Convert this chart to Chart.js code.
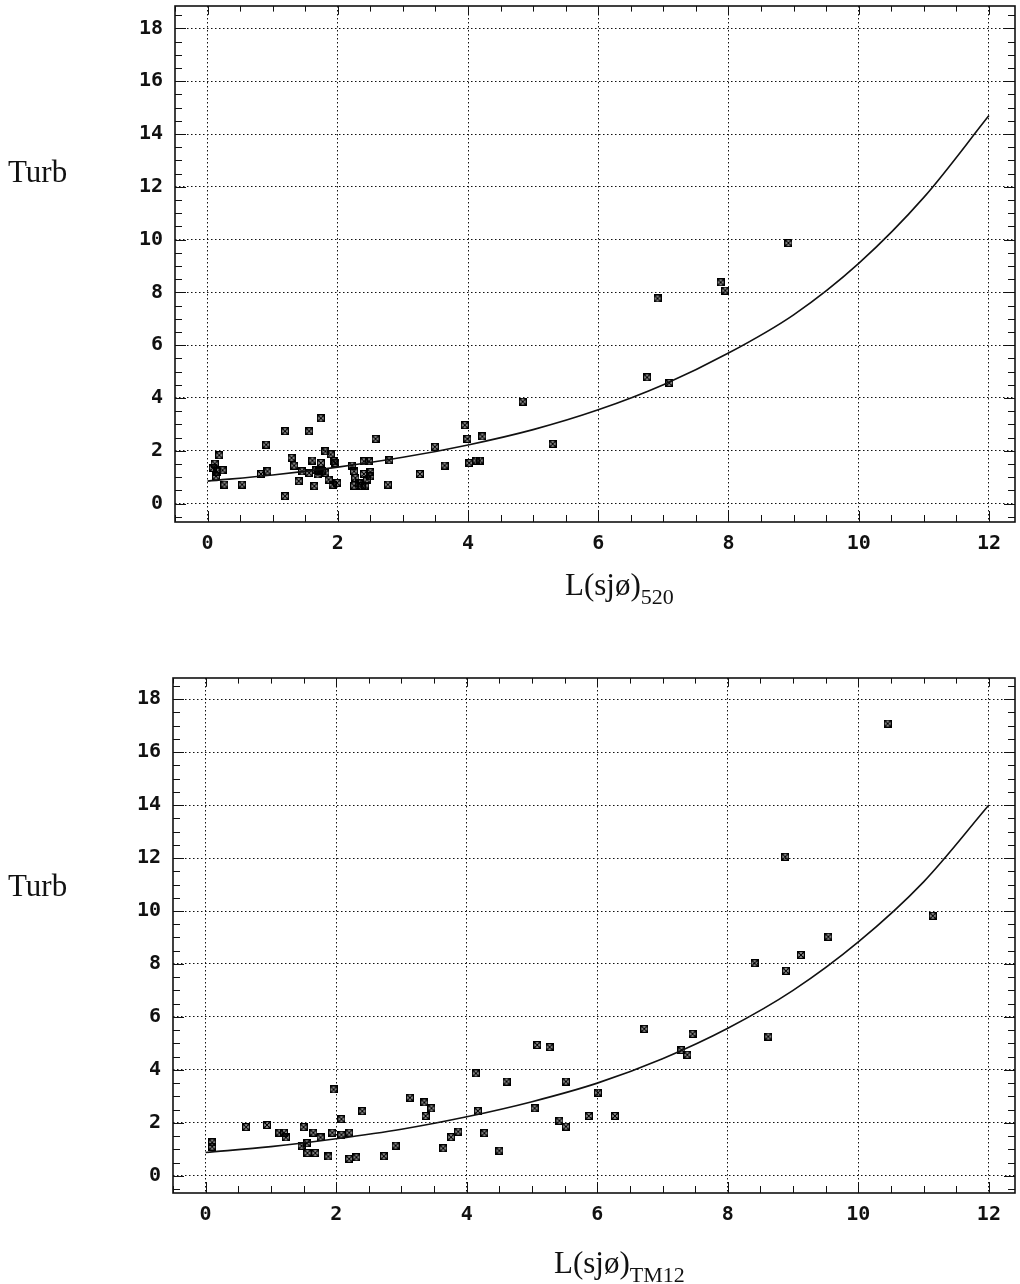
<!DOCTYPE html>
<html>
<head>
<meta charset="utf-8">
<script src="https://cdn.jsdelivr.net/npm/chart.js@4/dist/chart.umd.min.js"></script>
<style>
  html, body { margin: 0; padding: 0; background: #fff; }
  #page { position: relative; width: 1020px; height: 1284px; overflow: hidden; }
  canvas { position: absolute; left: 0; }
  .lbl { position: absolute; font-family: 'Liberation Serif', 'Times New Roman', serif; font-size: 31px; line-height: 31px; color: #111; white-space: nowrap; }
  .lbl sub { font-size: 22px; vertical-align: -9px; line-height: 0; }
</style>
</head>
<body>
<div id="page">
  <canvas id="chart-top" width="1020" height="620" style="top:0px"></canvas>
  <canvas id="chart-bottom" width="1020" height="624" style="top:660px"></canvas>
  <div class="lbl" style="left:8px; top:156px;">Turb</div>
  <div class="lbl" style="left:565px; top:569px;">L(sjø)<sub>520</sub></div>
  <div class="lbl" style="left:8px; top:870px;">Turb</div>
  <div class="lbl" style="left:554px; top:1247px;">L(sjø)<sub>TM12</sub></div>
</div>
<script>
// upper panel: scatter
const topPointsX = [0.08, 0.11, 0.13, 0.15, 0.18, 0.23, 0.26, 0.53, 0.82, 0.90, 0.92, 1.19, 1.19, 1.29, 1.33, 1.40, 1.45, 1.56, 1.56, 1.61,
    1.64, 1.66, 1.69, 1.71, 1.74, 1.74, 1.76, 1.81, 1.81, 1.86, 1.89, 1.92, 1.94, 1.96, 1.99, 2.22, 2.25, 2.27, 2.32, 2.25,
    2.37, 2.42, 2.45, 2.40, 2.50, 2.50, 2.40, 2.48, 2.58, 2.79, 2.77, 3.26, 3.49, 3.64, 3.95, 3.99, 4.02, 4.13, 4.18, 4.22,
    4.84, 5.30, 6.75, 6.91, 7.09, 7.88, 7.95, 8.92];
const topPointsY = [1.35, 1.51, 1.03, 1.20, 1.83, 1.26, 0.72, 0.72, 1.12, 2.23, 1.22, 2.74, 0.28, 1.73, 1.44, 0.85, 1.22, 1.16, 2.74, 1.63,
    0.66, 1.26, 1.10, 1.22, 1.54, 3.23, 1.22, 1.16, 1.98, 0.91, 1.86, 0.72, 1.60, 1.54, 0.78, 1.44, 1.22, 0.97, 0.76, 0.68,
    0.66, 0.68, 0.91, 1.12, 1.19, 1.03, 1.60, 1.60, 2.45, 1.64, 0.72, 1.12, 2.15, 1.44, 2.97, 2.45, 1.54, 1.63, 1.63, 2.54,
    3.86, 2.26, 4.78, 7.77, 4.57, 8.38, 8.07, 9.87];
const topCurveX = [0, 1, 2, 3, 4, 5, 6, 7, 8, 9, 10, 11, 12];
const topCurveY = [0.85, 1.08, 1.38, 1.75, 2.22, 2.8, 3.55, 4.5, 5.7, 7.15, 9.1, 11.6, 14.7];

// lower panel
const botPointsX = [0.10, 0.10, 0.62, 0.94, 1.13, 1.20, 1.23, 1.47, 1.50, 1.55, 1.56, 1.65, 1.68, 1.76, 1.88, 1.94, 1.96, 2.08, 2.08, 2.20,
    2.20, 2.31, 2.40, 2.73, 2.91, 3.13, 3.35, 3.37, 3.46, 3.64, 3.76, 3.87, 4.14, 4.17, 4.27, 4.50, 4.61, 5.04, 5.08, 5.27,
    5.42, 5.52, 5.52, 5.87, 6.01, 6.27, 6.72, 7.29, 7.38, 7.46, 8.41, 8.62, 8.88, 8.89, 9.12, 9.54, 10.45, 11.14];
const botPointsY = [1.26, 1.10, 1.84, 1.92, 1.63, 1.63, 1.45, 1.13, 1.84, 1.23, 0.86, 1.63, 0.86, 1.45, 0.73, 1.63, 3.26, 2.14, 1.55, 1.63,
    0.64, 0.70, 2.44, 0.74, 1.14, 2.95, 2.77, 2.26, 2.55, 1.04, 1.46, 1.67, 3.87, 2.45, 1.61, 0.95, 3.56, 2.55, 4.94, 4.86,
    2.08, 3.56, 1.86, 2.26, 3.14, 2.26, 5.55, 4.75, 4.57, 5.36, 8.03, 5.26, 12.05, 7.74, 8.34, 9.03, 17.08, 9.82];
const botCurveX = [0, 1, 2, 3, 4, 5, 6, 7, 8, 9, 10, 11, 12];
const botCurveY = [0.88, 1.1, 1.4, 1.76, 2.23, 2.8, 3.5, 4.42, 5.57, 7.0, 8.83, 11.1, 14.0];

// labelled ticks (same on both panels)
const xTickValues = [0, 2, 4, 6, 8, 10, 12];
const yTickValues = [0, 2, 4, 6, 8, 10, 12, 14, 16, 18];

const ink = '#111';

// small boxed-x marker used for every data point
const makeMarker = () => {
    const c = document.createElement('canvas');
    c.width = 8; c.height = 8;
    const g = c.getContext('2d');
    g.strokeStyle = '#000';
    g.lineWidth = 1.5;
    g.strokeRect(0.75, 0.75, 6.5, 6.5);
    g.beginPath();
    g.moveTo(1, 1); g.lineTo(7, 7);
    g.moveTo(7, 1); g.lineTo(1, 7);
    g.stroke();
    return c;
};
const marker = makeMarker();

// frame with inward ticks on all four sides (every 0.5, longer at even values)
const frameTicks = {
    id: 'frameTicks',
    afterDatasetsDraw(chart) {
        const { ctx, chartArea: a, scales: { x, y } } = chart;
        ctx.save();
        ctx.strokeStyle = ink;
        ctx.lineWidth = 1;
        ctx.beginPath();
        for (let v = Math.ceil(x.min * 2) / 2; v <= x.max + 1e-9; v += 0.5) {
            const px = Math.round(x.getPixelForValue(v)) + 0.5;
            const len = (Math.abs(v % 2) < 1e-9) ? 11 : 7;
            ctx.moveTo(px, a.bottom); ctx.lineTo(px, a.bottom - len);
            ctx.moveTo(px, a.top); ctx.lineTo(px, a.top + len * 0.8);
        }
        for (let v = Math.ceil(y.min * 2) / 2; v <= y.max + 1e-9; v += 0.5) {
            const py = Math.round(y.getPixelForValue(v)) + 0.5;
            const len = (Math.abs(v % 2) < 1e-9) ? 11 : 7;
            ctx.moveTo(a.left, py); ctx.lineTo(a.left + len, py);
            ctx.moveTo(a.right, py); ctx.lineTo(a.right - len, py);
        }
        ctx.stroke();
        ctx.lineWidth = 1.6;
        ctx.strokeRect(a.left, a.top, a.right - a.left, a.bottom - a.top);
        ctx.restore();
    }
};

const buildChart = (canvasId, opts) => {
    const points = opts.px.map((v, i) => ({ x: v, y: opts.py[i] }));
    const curve = opts.cx.map((v, i) => ({ x: v, y: opts.cy[i] }));
    const tickFont = { family: "'DejaVu Sans Mono', monospace", size: 20, weight: 'bold' };

    return new Chart(document.getElementById(canvasId), {
        type: 'scatter',
        data: {
            datasets: [
                {
                    data: curve,
                    showLine: true,
                    borderColor: ink,
                    borderWidth: 1.6,
                    pointRadius: 0,
                    cubicInterpolationMode: 'monotone',
                    fill: false
                },
                {
                    data: points,
                    pointStyle: marker,
                    pointRadius: 4,
                    borderColor: ink,
                    backgroundColor: ink
                }
            ]
        },
        options: {
            responsive: false,
            animation: false,
            events: [],
            layout: { padding: { left: 0, top: opts.padTop, right: 1, bottom: 0 } },
            plugins: { legend: { display: false }, tooltip: { enabled: false } },
            scales: {
                x: {
                    type: 'linear',
                    min: -0.5,
                    max: 12.4,
                    afterBuildTicks: axis => { axis.ticks = xTickValues.map(v => ({ value: v })); },
                    afterFit: s => { s.height = opts.xAxisHeight; s.paddingLeft = 0; s.paddingRight = 0; },
                    ticks: {
                        padding: 10,
                        color: ink,
                        font: tickFont,
                        autoSkip: false,
                        maxRotation: 0
                    },
                    grid: { color: ink, lineWidth: 1, drawTicks: false },
                    border: { display: false, dash: [1.5, 2.5] }
                },
                y: {
                    type: 'linear',
                    min: opts.yMin,
                    max: opts.yMax,
                    afterBuildTicks: axis => { axis.ticks = yTickValues.map(v => ({ value: v })); },
                    afterFit: s => { s.width = opts.yAxisWidth; s.paddingTop = 0; s.paddingBottom = 0; },
                    ticks: {
                        padding: 12,
                        color: ink,
                        font: tickFont,
                        autoSkip: false
                    },
                    grid: { color: ink, lineWidth: 1, drawTicks: false },
                    border: { display: false, dash: [1.5, 2.5] }
                }
            }
        },
        plugins: [frameTicks]
    });
};

buildChart('chart-top', {
    px: topPointsX, py: topPointsY, cx: topCurveX, cy: topCurveY,
    yMin: -0.7, yMax: 18.85, padTop: 6, yAxisWidth: 175, xAxisHeight: 98
});

buildChart('chart-bottom', {
    px: botPointsX, py: botPointsY, cx: botCurveX, cy: botCurveY,
    yMin: -0.65, yMax: 18.8, padTop: 18, yAxisWidth: 173, xAxisHeight: 91
});
</script>
</body>
</html>
